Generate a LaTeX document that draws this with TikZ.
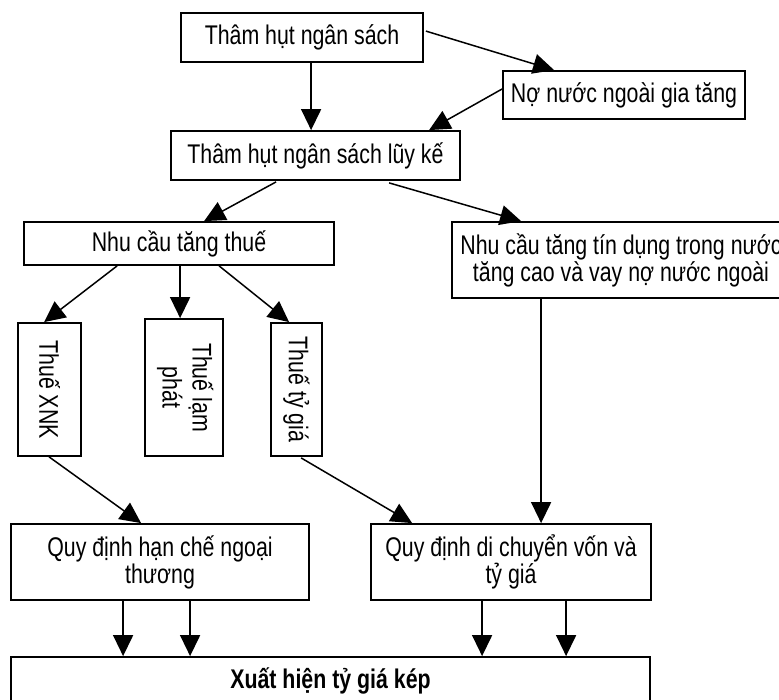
\documentclass[tikz,border=0pt]{standalone}
\usepackage{fontspec}
\setmainfont{Liberation Sans}[FakeStretch=0.79]
\usepackage{graphicx}
\usetikzlibrary{arrows.meta,calc}
\tikzset{
  box/.style={draw, line width=1.8pt, rectangle, inner sep=0pt, align=center,
    font=\fontsize{27}{27}\selectfont},
  arr/.style={line width=1.5pt, -{Triangle[length=21pt,width=20pt]}},
}
\begin{document}
\begin{tikzpicture}[x=1pt,y=-1pt]
\useasboundingbox (0,0) rectangle (779,700);
\clip (0,0) rectangle (779,700);
% boxes
\node[box, minimum width=242pt, minimum height=49pt] (b1) at (302,37.5) {Thâm hụt ngân sách};
\node[box, minimum width=242pt, minimum height=48pt] (no) at (624,95) {Nợ nước ngoài gia tăng};
\node[box, minimum width=289pt, minimum height=49pt] (lk) at (315.5,155.5) {Thâm hụt ngân sách lũy kế};
\node[box, minimum width=310pt, minimum height=43pt] (th) at (179,243.5) {Nhu cầu tăng thuế};
\node[box, minimum width=338pt, minimum height=76pt] (td) at (621,260) {Nhu cầu tăng tín dụng trong nước\\tăng cao và vay nợ nước ngoài};
\node[box, minimum width=63pt, minimum height=133pt] (xnk) at (49.5,389.5) {\rotatebox{-90}{Thuế XNK}};
\node[box, minimum width=78pt, minimum height=137pt] (lp) at (184,387.5) {\rotatebox{-90}{\begin{tabular}{@{}c@{}}Thuế lạm\\[2pt]phát\end{tabular}}};
\node[box, minimum width=51pt, minimum height=133pt] (tg) at (296.5,389.5) {\rotatebox{-90}{Thuế tỷ giá}};
\node[box, minimum width=298pt, minimum height=76pt] (q1) at (160,562) {Quy định hạn chế ngoại\\thương};
\node[box, minimum width=280pt, minimum height=76pt] (q2) at (511,562) {Quy định di chuyển vốn và\\tỷ giá};
\node[box, minimum width=639pt, minimum height=48pt, font=\fontsize{27}{27}\selectfont\bfseries] (bot) at (330.5,681) {Xuất hiện tỷ giá kép};
% connectors
\draw[arr] ($(b1.north east)+(2,19)$) -- ($(no.north west)+(52,0)$);
\draw[arr] ($(no.west)+(0,-6)$) -- ($(lk.north west)+(259,0)$);
\draw[arr] ($(b1.south west)+(131,0)$) -- ($(lk.north west)+(141,0)$);
\draw[arr] ($(lk.south west)+(106,1)$) -- ($(th.north west)+(181,0)$);
\draw[arr] ($(lk.south west)+(219,2)$) -- ($(td.north west)+(70,0)$);
\draw[arr] ($(th.south west)+(94,0)$) -- ($(xnk.north west)+(27,0)$);
\draw[arr] ($(th.south west)+(157,0)$) -- ($(lp.north west)+(36,0)$);
\draw[arr] ($(th.south west)+(196,0)$) -- ($(tg.north west)+(19,0)$);
\draw[arr] ($(xnk.south west)+(32,0)$) -- ($(q1.north west)+(131,0)$);
\draw[arr] ($(tg.south west)+(31,1)$) -- ($(q2.north west)+(42,0)$);
\draw[arr] ($(td.south west)+(90,0)$) -- ($(q2.north west)+(171,0)$);
\draw[arr] ($(q1.south west)+(113,0)$) -- ($(bot.north west)+(113,0)$);
\draw[arr] ($(q1.south west)+(180,0)$) -- ($(bot.north west)+(180,0)$);
\draw[arr] ($(q2.south west)+(112,0)$) -- ($(bot.north west)+(472,0)$);
\draw[arr] ($(q2.south west)+(196,0)$) -- ($(bot.north west)+(556,0)$);
\end{tikzpicture}
\end{document}
